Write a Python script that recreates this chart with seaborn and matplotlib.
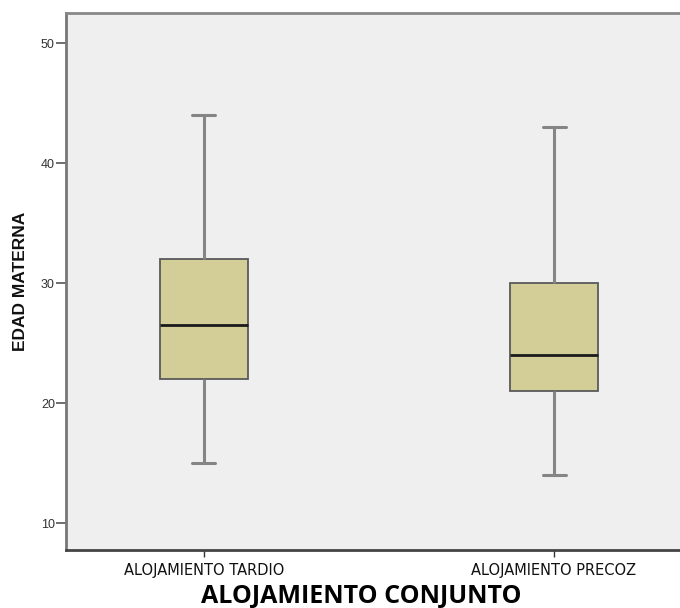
import matplotlib
matplotlib.use("Agg")
import matplotlib.pyplot as plt
import seaborn as sns
import pandas as pd

# Five-number summaries (min, Q1, median, Q3, max)
categories = ["ALOJAMIENTO TARDIO", "ALOJAMIENTO PRECOZ"]
tardio = [15, 22, 26.5, 32, 44]
precoz = [14, 21, 24, 30, 43]
y_ticks = [10, 20, 30, 40, 50]

df = pd.DataFrame({
    "grupo": [categories[0]] * len(tardio) + [categories[1]] * len(precoz),
    "edad": tardio + precoz,
})

sns.set_style("white")
plt.rcParams["font.family"] = ["Liberation Sans", "DejaVu Sans"]

fig = plt.figure(figsize=(6.8, 6.08), dpi=100)
ax = fig.add_axes([66 / 680, 58 / 608, (692 - 66) / 680, (550 - 13) / 608])
ax.set_facecolor("#EFEFEF")

sns.boxplot(
    data=df, x="grupo", y="edad", order=categories, ax=ax,
    whis=(0, 100), width=0.25, color="#D3CE98", saturation=1,
    linecolor="#6E6E6E", linewidth=1.4, capwidths=0.066,
    medianprops=dict(color="#1A1A1A", linewidth=2),
    boxprops=dict(facecolor="#D3CE98", edgecolor="#5A5A5A", linewidth=1.3),
    whiskerprops=dict(color="#858585", linewidth=2.2),
    capprops=dict(color="#858585", linewidth=2.2),
)

ax.set_xlim(-0.394, 1.394)
ax.set_ylim(7.75, 52.5)
ax.set_yticks(y_ticks)
ax.set_yticklabels([str(t) for t in y_ticks], fontsize=9, color="#333333")
ax.tick_params(axis="y", length=7, width=1.2, color="#555555", pad=1, left=True)
ax.tick_params(axis="x", length=5, width=1, color="#333333", pad=4, bottom=True)
for lbl in ax.get_xticklabels():
    lbl.set_family(["DejaVu Sans"])
    lbl.set_fontsize(10.5)
    lbl.set_color("#111111")

for side in ["left", "top", "right", "bottom"]:
    ax.spines[side].set_visible(True)
ax.spines["left"].set_color("#777777")
ax.spines["left"].set_linewidth(2)
ax.spines["top"].set_color("#888888")
ax.spines["top"].set_linewidth(2)
ax.spines["bottom"].set_color("#444444")
ax.spines["bottom"].set_linewidth(2)
ax.spines["right"].set_visible(False)

ax.set_ylabel("EDAD MATERNA", fontsize=12.5, fontweight="bold", labelpad=9, color="#111111")
ax.set_xlabel("ALOJAMIENTO CONJUNTO", fontsize=18, fontweight="bold",
              family=["Open Sans", "DejaVu Sans"], labelpad=0, color="#000000")
ax.xaxis.set_label_coords((361 - 66) / 626, -0.063)

fig.savefig("out.png", dpi=100)
